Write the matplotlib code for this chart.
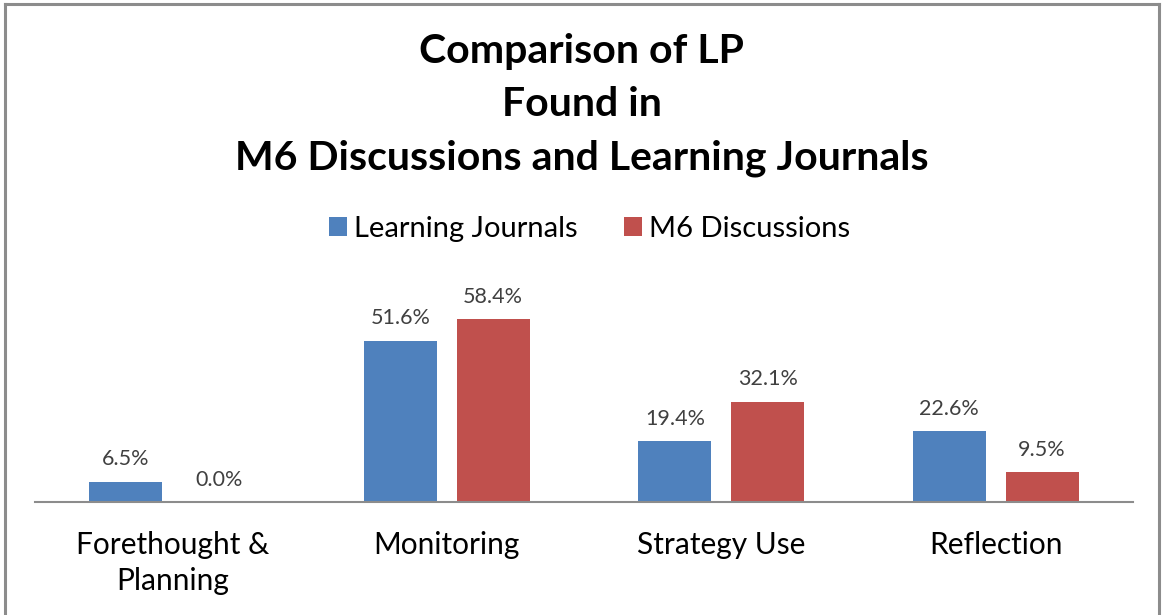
import numpy as np
import matplotlib.pyplot as plt
from matplotlib.lines import Line2D

categories = ["Forethought &\nPlanning", "Monitoring", "Strategy Use", "Reflection"]
journals = [6.5, 51.6, 19.4, 22.6]
discussions = [0.0, 58.4, 32.1, 9.5]
series_names = ["Learning Journals", "M6 Discussions"]
colors = ["#4F81BD", "#C0504D"]

plt.rcParams['font.family'] = ['Lato', 'DejaVu Sans']

fig = plt.figure(figsize=(11.63, 6.15), dpi=100)
fig.patch.set_facecolor("white")

# frame around the chart (open at the bottom, as in the cropped original)
frame_c = "#8c8c8c"
fig.add_artist(Line2D([5/1163, 1159/1163], [1 - 4/615, 1 - 4/615], color=frame_c, lw=2.2))
fig.add_artist(Line2D([5/1163, 5/1163], [0, 1 - 4/615], color=frame_c, lw=2.2))
fig.add_artist(Line2D([1159/1163, 1159/1163], [0, 1 - 4/615], color=frame_c, lw=2.2))

ax = fig.add_axes([35/1163, 113/615, 1098/1163, 219/615])
x = np.arange(len(categories))
w = 0.266
off = 0.169
b1 = ax.bar(x - off, journals, w, color=colors[0], label=series_names[0])
b2 = ax.bar(x + off, discussions, w, color=colors[1], label=series_names[1])

for bars, vals in ((b1, journals), (b2, discussions)):
    for r, v in zip(bars, vals):
        ax.annotate(f"{v:.1f}%", (r.get_x() + r.get_width() / 2, v),
                    xytext=(0, 9), textcoords="offset points",
                    ha="center", va="bottom", fontsize=15.5, color="#404040")

ax.set_xlim(-0.5, 3.5)
ax.set_ylim(0, 70)
ax.set_yticks([])
ax.set_xticks(x)
ax.set_xticklabels(categories, fontsize=21.5, color="#000000", linespacing=1.35)
ax.tick_params(axis="x", length=0, pad=21)
for s in ("top", "left", "right"):
    ax.spines[s].set_visible(False)
ax.spines["bottom"].set_color("#8c8c8c")
ax.spines["bottom"].set_linewidth(1.5)

title_lines = ["Comparison of LP", "Found in", "M6 Discussions and Learning Journals"]
for t, yp in zip(title_lines, (52, 105, 158)):
    fig.text(0.5, 1 - yp/615, t, ha="center", va="center",
             fontsize=29.5, fontweight="bold")

fig.legend(loc="center", bbox_to_anchor=(0.507, 1 - 229/615), ncol=2, frameon=False,
           fontsize=21, handlelength=0.6, handleheight=0.6, handletextpad=0.25,
           columnspacing=1.6)

fig.savefig("out.png", dpi=100)
